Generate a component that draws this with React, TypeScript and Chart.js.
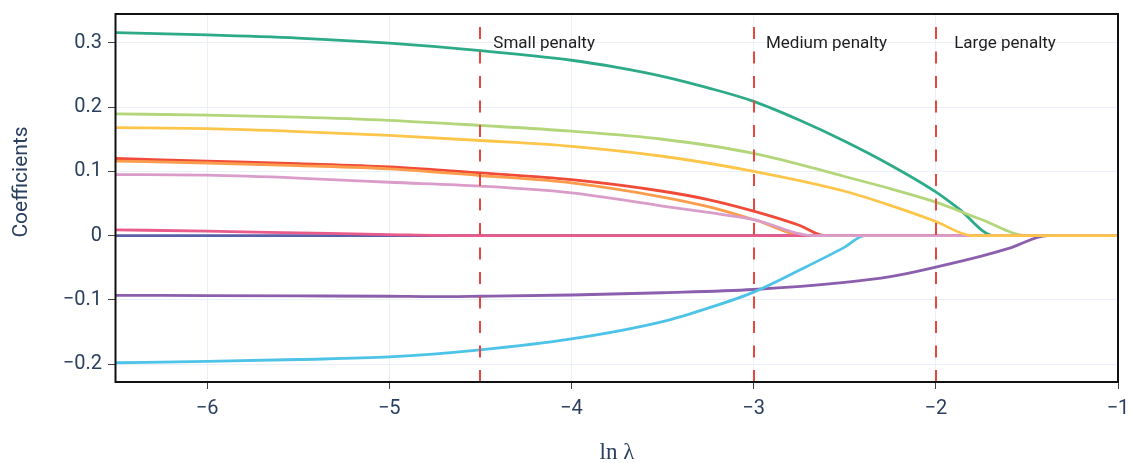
import { useEffect, useRef } from "react";
import { Chart, registerables } from "chart.js";

Chart.register(...registerables);

// Axis ranges and ticks
const X_MIN = -6.5;
const X_MAX = -1;
const Y_MIN = -0.228;
const Y_MAX = 0.345;
const xTicks = [-6, -5, -4, -3, -2, -1];
const yTicks = [-0.2, -0.1, 0, 0.1, 0.2, 0.3];

// Penalty markers (ln λ) and their captions
const penaltyAt = [-4.5, -3, -2];
const penaltyNames = ["Small penalty", "Medium penalty", "Large penalty"];
const penaltyLabelX = [-4.15, -2.6, -1.62];
const penaltyLabelY = 0.292;

// Lasso coefficient paths: [ln λ, coefficient]
const pathNavy: [number, number][] = [[-6.5, 0], [-1, 0]];
const pathPurple: [number, number][] = [
  [-6.5, -0.093], [-6, -0.0935], [-5.5, -0.094], [-5, -0.0945], [-4.75, -0.0952],
  [-4.5, -0.0945], [-4, -0.0925], [-3.5, -0.089], [-3, -0.084], [-2.5, -0.073],
  [-2.25, -0.064], [-2, -0.049], [-1.75, -0.032], [-1.6, -0.02], [-1.385, 0], [-1, 0],
];
const pathCyan: [number, number][] = [
  [-6.5, -0.198], [-6, -0.196], [-5.5, -0.193], [-5, -0.189], [-4.5, -0.178],
  [-4, -0.161], [-3.5, -0.134], [-3.25, -0.113], [-3, -0.088], [-2.75, -0.054],
  [-2.5, -0.018], [-2.39, 0], [-1, 0],
];
const pathGreen: [number, number][] = [
  [-6.5, 0.316], [-6, 0.3125], [-5.5, 0.3075], [-5, 0.2995], [-4.5, 0.288],
  [-4, 0.273], [-3.75, 0.262], [-3.5, 0.248], [-3.25, 0.23], [-3, 0.209],
  [-2.75, 0.18], [-2.5, 0.147], [-2.25, 0.11], [-2, 0.068], [-1.875, 0.042],
  [-1.68, 0], [-1, 0],
];
const pathLightGreen: [number, number][] = [
  [-6.5, 0.1895], [-6, 0.1875], [-5.5, 0.1845], [-5, 0.1795], [-4.5, 0.1715],
  [-4, 0.1625], [-3.5, 0.15], [-3, 0.128], [-2.5, 0.092], [-2.25, 0.073],
  [-2, 0.052], [-1.75, 0.025], [-1.5, 0], [-1, 0],
];
const pathRed: [number, number][] = [
  [-6.5, 0.12], [-6, 0.116], [-5.5, 0.112], [-5, 0.107], [-4.5, 0.0975],
  [-4, 0.087], [-3.5, 0.069], [-3.25, 0.056], [-3, 0.038], [-2.75, 0.016],
  [-2.61, 0], [-1, 0],
];
const pathOrange: [number, number][] = [
  [-6.5, 0.116], [-6, 0.113], [-5.5, 0.109], [-5, 0.104], [-4.5, 0.0935],
  [-4, 0.082], [-3.5, 0.06], [-3.25, 0.045], [-3, 0.025], [-2.71, 0], [-1, 0],
];
const pathPink: [number, number][] = [
  [-6.5, 0.009], [-6, 0.0068], [-5.5, 0.0042], [-5, 0.0016], [-4.6, 0], [-1, 0],
];
const pathLilac: [number, number][] = [
  [-6.5, 0.095], [-6, 0.094], [-5.5, 0.0895], [-5, 0.083], [-4.5, 0.077],
  [-4, 0.0665], [-3.5, 0.046], [-3.25, 0.036], [-3, 0.025], [-2.67, 0], [-1, 0],
];
const pathYellow: [number, number][] = [
  [-6.5, 0.168], [-6, 0.1665], [-5.5, 0.162], [-5, 0.156], [-4.5, 0.148],
  [-4, 0.139], [-3.5, 0.1235], [-3, 0.1], [-2.5, 0.069], [-2.25, 0.047],
  [-2, 0.022], [-1.8, 0], [-1, 0],
];

// Drawing order: later entries sit on top
const paths = [pathNavy, pathPurple, pathCyan, pathGreen, pathLightGreen, pathRed, pathOrange, pathPink, pathLilac, pathYellow];
const pathColors = ["#5a5fa9", "#8b5fad", "#4dc3e8", "#2daa88", "#b3d67a", "#f04b38", "#fa9c4c", "#ea5a8b", "#da9dca", "#fdc64b"];

const TICK_FONT = { family: "Roboto", size: 20 };
const TEXT_COLOR = "#2a3f5f";

const fmt = (v: number) => {
  const r = Math.round(v * 100) / 100;
  return r < 0 ? "\u2212" + String(Math.abs(r)) : String(r);
};

const decorations = {
  id: "decorations",
  afterDatasetsDraw(chart: any) {
    const { ctx, chartArea: a, scales } = chart;
    const x = scales.x;
    const y = scales.y;
    ctx.save();
    // dashed penalty markers
    ctx.beginPath();
    ctx.rect(a.left, a.top, a.right - a.left, a.bottom - a.top);
    ctx.clip();
    ctx.strokeStyle = "#e8473f";
    ctx.lineWidth = 2;
    ctx.setLineDash([12, 12.5]);
    penaltyAt.forEach((v) => {
      const px = Math.round(x.getPixelForValue(v));
      ctx.beginPath();
      ctx.moveTo(px, a.bottom);
      ctx.lineTo(px, a.top);
      ctx.stroke();
    });
    ctx.restore();

    ctx.save();
    // penalty captions
    ctx.fillStyle = "#1e1e1e";
    ctx.font = "17px Roboto";
    ctx.textAlign = "center";
    ctx.textBaseline = "alphabetic";
    penaltyNames.forEach((t, i) => {
      ctx.fillText(t, x.getPixelForValue(penaltyLabelX[i]), y.getPixelForValue(penaltyLabelY));
    });

    // frame
    ctx.strokeStyle = "#111";
    ctx.lineWidth = 2;
    ctx.strokeRect(a.left - 0.5, a.top, a.right - a.left + 0.5, a.bottom - a.top);

    // axis titles
    ctx.fillStyle = TEXT_COLOR;
    ctx.font = "21px Roboto";
    ctx.textAlign = "center";
    ctx.textBaseline = "middle";
    ctx.save();
    ctx.translate(22, 182);
    ctx.rotate(-Math.PI / 2);
    ctx.fillText("Coefficients", 0, 0);
    ctx.restore();

    ctx.font = "23px 'Liberation Serif'";
    ctx.textBaseline = "alphabetic";
    ctx.fillText("ln \u03bb", (a.left + a.right) / 2, 459);
    ctx.restore();
  },
};

export default function App() {
  const ref = useRef<HTMLCanvasElement | null>(null);

  useEffect(() => {
    document.body.style.margin = "0";
    const canvas = ref.current;
    if (!canvas) return;
    const n = paths.length;
    const chart = new Chart(canvas, {
      type: "line",
      data: {
        datasets: paths.map((p, i) => ({
          data: p.map(([lx, c]) => ({ x: lx, y: c })),
          borderColor: pathColors[i],
          backgroundColor: pathColors[i],
          borderWidth: 2.8,
          pointRadius: 0,
          fill: false,
          cubicInterpolationMode: "monotone" as const,
          order: n - i,
        })),
      },
      options: {
        responsive: false,
        animation: false,
        layout: { padding: { top: 14, right: 13, left: 0, bottom: 0 } },
        plugins: { legend: { display: false }, tooltip: { enabled: false } },
        scales: {
          x: {
            type: "linear",
            min: X_MIN,
            max: X_MAX,
            afterFit: (s: any) => {
              s.height = 81;
              s.paddingLeft = 0;
              s.paddingRight = 0;
            },
            afterBuildTicks: (s: any) => {
              s.ticks = xTicks.map((value) => ({ value }));
            },
            grid: { color: "#ebf0f8", lineWidth: 1, tickColor: "#444", tickLength: 7, drawTicks: true },
            border: { display: false },
            ticks: {
              font: TICK_FONT,
              color: TEXT_COLOR,
              padding: 8,
              maxRotation: 0,
              autoSkip: false,
              callback: (v: any) => fmt(Number(v)),
            },
          },
          y: {
            type: "linear",
            min: Y_MIN,
            max: Y_MAX,
            afterFit: (s: any) => {
              s.width = 116;
              s.paddingTop = 0;
              s.paddingBottom = 0;
            },
            afterBuildTicks: (s: any) => {
              s.ticks = yTicks.map((value) => ({ value }));
            },
            grid: { color: "#ebf0f8", lineWidth: 1, tickColor: "#444", tickLength: 8, drawTicks: true },
            border: { display: false },
            ticks: {
              font: TICK_FONT,
              color: TEXT_COLOR,
              padding: 6,
              autoSkip: false,
              callback: (v: any) => fmt(Number(v)),
            },
          },
        },
      },
      plugins: [decorations],
    });
    return () => chart.destroy();
  }, []);

  return (
    <div style={{ position: "fixed", left: 0, top: 0, width: 1131, height: 463, background: "#fff" }}>
      <canvas ref={ref} width={1131} height={463} />
    </div>
  );
}
